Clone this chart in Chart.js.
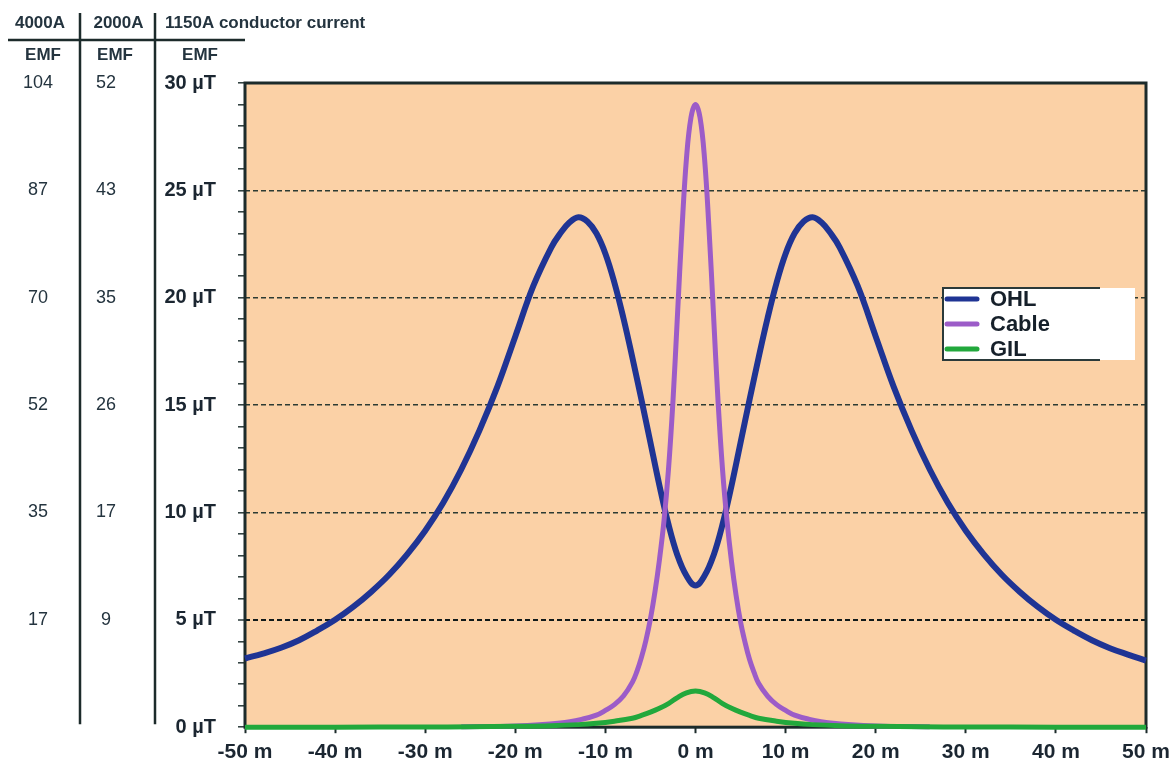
<!DOCTYPE html>
<html>
<head>
<meta charset="utf-8">
<title>EMF comparison</title>
<script src="https://cdn.jsdelivr.net/npm/chart.js@4/dist/chart.umd.min.js"></script>
<style>
  html, body { margin: 0; padding: 0; background: #fff; }
  canvas { display: block; }
</style>
</head>
<body>
<canvas id="myChart" width="1169" height="769"></canvas>
<script>
// distance from the route centre (m) and magnetic field (µT)
const ohlDistance = [-50, -48, -46, -44, -42, -40, -38, -36, -34, -32, -30, -28, -26, -24, -22, -20, -18, -16, -15, -14, -13, -12, -11, -10, -9, -8, -7, -6, -5, -4, -3, -2, -1, 0,
                     1, 2, 3, 4, 5, 6, 7, 8, 9, 10, 11, 12, 13, 14, 15, 16, 18, 20, 22, 24, 26, 28, 30, 32, 34, 36, 38, 40, 42, 44, 46, 48, 50];
const ohlField = [3.2, 3.43, 3.7, 4.05, 4.5, 5.0, 5.6, 6.3, 7.1, 8.05, 9.15, 10.45, 12.0, 13.8, 15.85, 18.2, 20.55, 22.35, 23.0, 23.5, 23.75, 23.55, 23.0, 22.05, 20.7, 19.05, 17.2, 15.25, 13.25, 11.25, 9.45, 8.0, 7.05, 6.6,
                  7.05, 8.0, 9.45, 11.25, 13.25, 15.25, 17.2, 19.05, 20.7, 22.05, 23.0, 23.55, 23.75, 23.5, 23.0, 22.35, 20.55, 18.2, 15.85, 13.8, 12.0, 10.45, 9.15, 8.05, 7.1, 6.3, 5.6, 5.0, 4.5, 4.05, 3.68, 3.38, 3.1];

const cableDistance = [-26, -20, -15, -12.5, -11, -10, -9, -8, -7, -6.5, -6, -5.5, -5, -4.5, -4, -3.5, -3, -2.5, -2, -1.5, -1, -0.5, 0,
                       0.5, 1, 1.5, 2, 2.5, 3, 3.5, 4, 4.5, 5, 5.5, 6, 6.5, 7, 8, 9, 10, 11, 12.5, 15, 20, 26];
const cableField = [0.02, 0.06, 0.2, 0.38, 0.56, 0.78, 1.05, 1.45, 2.1, 2.6, 3.25, 4.05, 5.05, 6.3, 7.8, 9.6, 12.0, 15.2, 19.2, 23.2, 26.5, 28.4, 29.0,
                    28.4, 26.5, 23.2, 19.2, 15.2, 12.0, 9.6, 7.7, 6.15, 4.9, 3.95, 3.15, 2.55, 2.05, 1.45, 1.05, 0.78, 0.56, 0.38, 0.2, 0.06, 0.02];

const gilDistance = [-50, -40, -30, -25, -20, -16, -13, -11, -9, -7, -6, -5, -4, -3, -2, -1, 0, 1, 2, 3, 4, 5, 6, 7, 9, 11, 13, 16, 20, 25, 30, 40, 50];
const gilField = [0, 0, 0.01, 0.02, 0.04, 0.07, 0.12, 0.18, 0.28, 0.42, 0.55, 0.7, 0.88, 1.1, 1.38, 1.6, 1.68,
                  1.6, 1.38, 1.1, 0.88, 0.7, 0.55, 0.42, 0.28, 0.18, 0.12, 0.07, 0.04, 0.02, 0.01, 0, 0];

const seriesNames = ['OHL', 'Cable', 'GIL'];
const seriesColors = ['#1f3494', '#9c5cc8', '#22a83c'];

// left hand scales: field at 1150 A and the same ticks rescaled to 4000 A / 2000 A
const fieldTicks = [0, 5, 10, 15, 20, 25, 30];
const emf4000 = ['', '17', '35', '52', '70', '87', '104'];
const emf2000 = ['', '9', '17', '26', '35', '43', '52'];
const columnHeads = ['4000A', '2000A', '1150A conductor current'];
const columnTitle = 'EMF';

const ink = '#1b2631';

function pairs(xs, ys) {
    return xs.map((x, i) => ({ x: x, y: ys[i] }));
}

// peach plot area with a dark frame
const plotFrame = {
    id: 'plotFrame',
    beforeDraw(chart) {
        const { ctx, chartArea: a } = chart;
        ctx.save();
        ctx.fillStyle = '#fbd1a6';
        ctx.fillRect(a.left, a.top, a.right - a.left, a.bottom - a.top);
        ctx.restore();
    },
    beforeDatasetsDraw(chart) {
        const { ctx, chartArea: a } = chart;
        ctx.save();
        ctx.strokeStyle = '#1c2b2b';
        ctx.lineWidth = 3;
        ctx.strokeRect(a.left, a.top, a.right - a.left, a.bottom - a.top);
        ctx.restore();
    }
};

// header row and column rules of the little table on the left
const sideTable = {
    id: 'sideTable',
    afterDraw(chart) {
        const { ctx, chartArea: a, scales } = chart;
        const c1 = scales.y4000, c2 = scales.y2000;
        ctx.save();
        ctx.strokeStyle = '#1c2b2b';
        ctx.lineWidth = 2.5;
        ctx.beginPath();
        ctx.moveTo(c1.right, 13); ctx.lineTo(c1.right, a.bottom - 3);
        ctx.moveTo(c2.right, 13); ctx.lineTo(c2.right, a.bottom - 3);
        ctx.moveTo(8, 40); ctx.lineTo(a.left, 40);
        ctx.stroke();

        ctx.fillStyle = '#24343f';
        ctx.textBaseline = 'middle';
        ctx.font = 'bold 17px "Liberation Sans", Arial, sans-serif';
        ctx.textAlign = 'center';
        ctx.fillText(columnHeads[0], (c1.left + c1.right) / 2, 23);
        ctx.fillText(columnHeads[1], (c2.left + c2.right) / 2 + 1, 23);
        ctx.textAlign = 'left';
        ctx.fillText(columnHeads[2], c2.right + 10, 23);

        ctx.textAlign = 'center';
        ctx.fillText(columnTitle, 43, 55);
        ctx.fillText(columnTitle, 115, 55);
        ctx.fillText(columnTitle, 200, 55);
        ctx.restore();
    }
};

// boxed legend sitting inside the plot
const boxLegend = {
    id: 'boxLegend',
    afterDraw(chart) {
        const { ctx } = chart;
        const left = 943, top = 288;
        ctx.save();
        ctx.fillStyle = '#ffffff';
        ctx.fillRect(left, top, 192, 72);
        ctx.strokeStyle = '#2b3a3a';
        ctx.lineWidth = 2;
        ctx.beginPath();
        ctx.moveTo(1100, top); ctx.lineTo(left, top); ctx.lineTo(left, top + 72); ctx.lineTo(1100, top + 72);
        ctx.stroke();
        ctx.font = 'bold 22px "Liberation Sans", Arial, sans-serif';
        ctx.textBaseline = 'middle';
        ctx.textAlign = 'left';
        chart.data.datasets.forEach((ds, i) => {
            const y = top + 11 + i * 25;
            ctx.strokeStyle = ds.borderColor;
            ctx.lineWidth = 5;
            ctx.lineCap = 'round';
            ctx.beginPath();
            ctx.moveTo(left + 4, y); ctx.lineTo(left + 34, y);
            ctx.stroke();
            ctx.fillStyle = '#16202a';
            ctx.fillText(ds.label, left + 47, y + 1);
        });
        ctx.restore();
    }
};

const ctx = document.getElementById('myChart').getContext('2d');
const myChart = new Chart(ctx, {
    type: 'line',
    data: {
        datasets: [
            { label: seriesNames[0], data: pairs(ohlDistance, ohlField), borderColor: seriesColors[0], borderWidth: 6, order: 3 },
            { label: seriesNames[1], data: pairs(cableDistance, cableField), borderColor: seriesColors[1], borderWidth: 5, order: 2 },
            { label: seriesNames[2], data: pairs(gilDistance, gilField), borderColor: seriesColors[2], borderWidth: 5, order: 1 }
        ]
    },
    options: {
        responsive: false,
        animation: false,
        devicePixelRatio: 1,
        layout: { padding: { top: 83, right: 23, left: 0, bottom: 0 } },
        elements: {
            point: { radius: 0 },
            line: { tension: 0.4, fill: false, borderJoinStyle: 'round' }
        },
        datasets: { line: { clip: false } },
        plugins: {
            legend: { display: false },
            tooltip: { enabled: false }
        },
        scales: {
            x: {
                type: 'linear',
                min: -50,
                max: 50,
                afterFit(scale) {
                    scale.height = 38;
                    scale.paddingLeft = 0;
                    scale.paddingRight = 0;
                },
                ticks: {
                    stepSize: 10,
                    padding: 6,
                    color: ink,
                    font: { family: '"Liberation Sans", Arial, sans-serif', size: 21, weight: 'bold' },
                    callback: v => v + ' m'
                },
                grid: { drawOnChartArea: false, tickLength: 6, tickColor: '#1c2b2b', tickWidth: 2 },
                border: { display: false }
            },
            y: {
                min: 0,
                max: 30,
                weight: 0,
                afterFit(scale) { scale.width = 90; },
                ticks: {
                    stepSize: 1,
                    autoSkip: false,
                    padding: 22,
                    color: ink,
                    font: { family: '"Liberation Sans", Arial, sans-serif', size: 20, weight: 'bold' },
                    callback: v => (v % 5 === 0 ? v + ' µT' : '')
                },
                grid: {
                    tickLength: 7,
                    tickColor: '#2a3a3a',
                    tickWidth: 1.5,
                    tickBorderDash: [],
                    lineWidth: c => (c.tick && c.tick.value === 5 ? 2 : 1.6),
                    color: c => {
                        const v = c.tick ? c.tick.value : 0;
                        if (v % 5 !== 0 || v === 0 || v === 30) return 'rgba(0,0,0,0)';
                        return v === 5 ? '#111a1a' : '#2c3b33';
                    }
                },
                border: { display: false, dash: [5, 3] }
            },
            y2000: {
                position: 'left',
                min: 0,
                max: 30,
                weight: 1,
                afterFit(scale) { scale.width = 75; },
                ticks: {
                    stepSize: 5,
                    crossAlign: 'center',
                    padding: 31,
                    color: '#24343f',
                    font: { family: '"Liberation Sans", Arial, sans-serif', size: 18 },
                    callback: v => emf2000[fieldTicks.indexOf(v)] || ''
                },
                grid: { display: false },
                border: { display: false }
            },
            y4000: {
                position: 'left',
                min: 0,
                max: 30,
                weight: 2,
                afterFit(scale) { scale.width = 80; },
                ticks: {
                    stepSize: 5,
                    crossAlign: 'center',
                    padding: 19,
                    color: '#24343f',
                    font: { family: '"Liberation Sans", Arial, sans-serif', size: 18 },
                    callback: v => emf4000[fieldTicks.indexOf(v)] || ''
                },
                grid: { display: false },
                border: { display: false }
            }
        }
    },
    plugins: [plotFrame, sideTable, boxLegend]
});
</script>
</body>
</html>
